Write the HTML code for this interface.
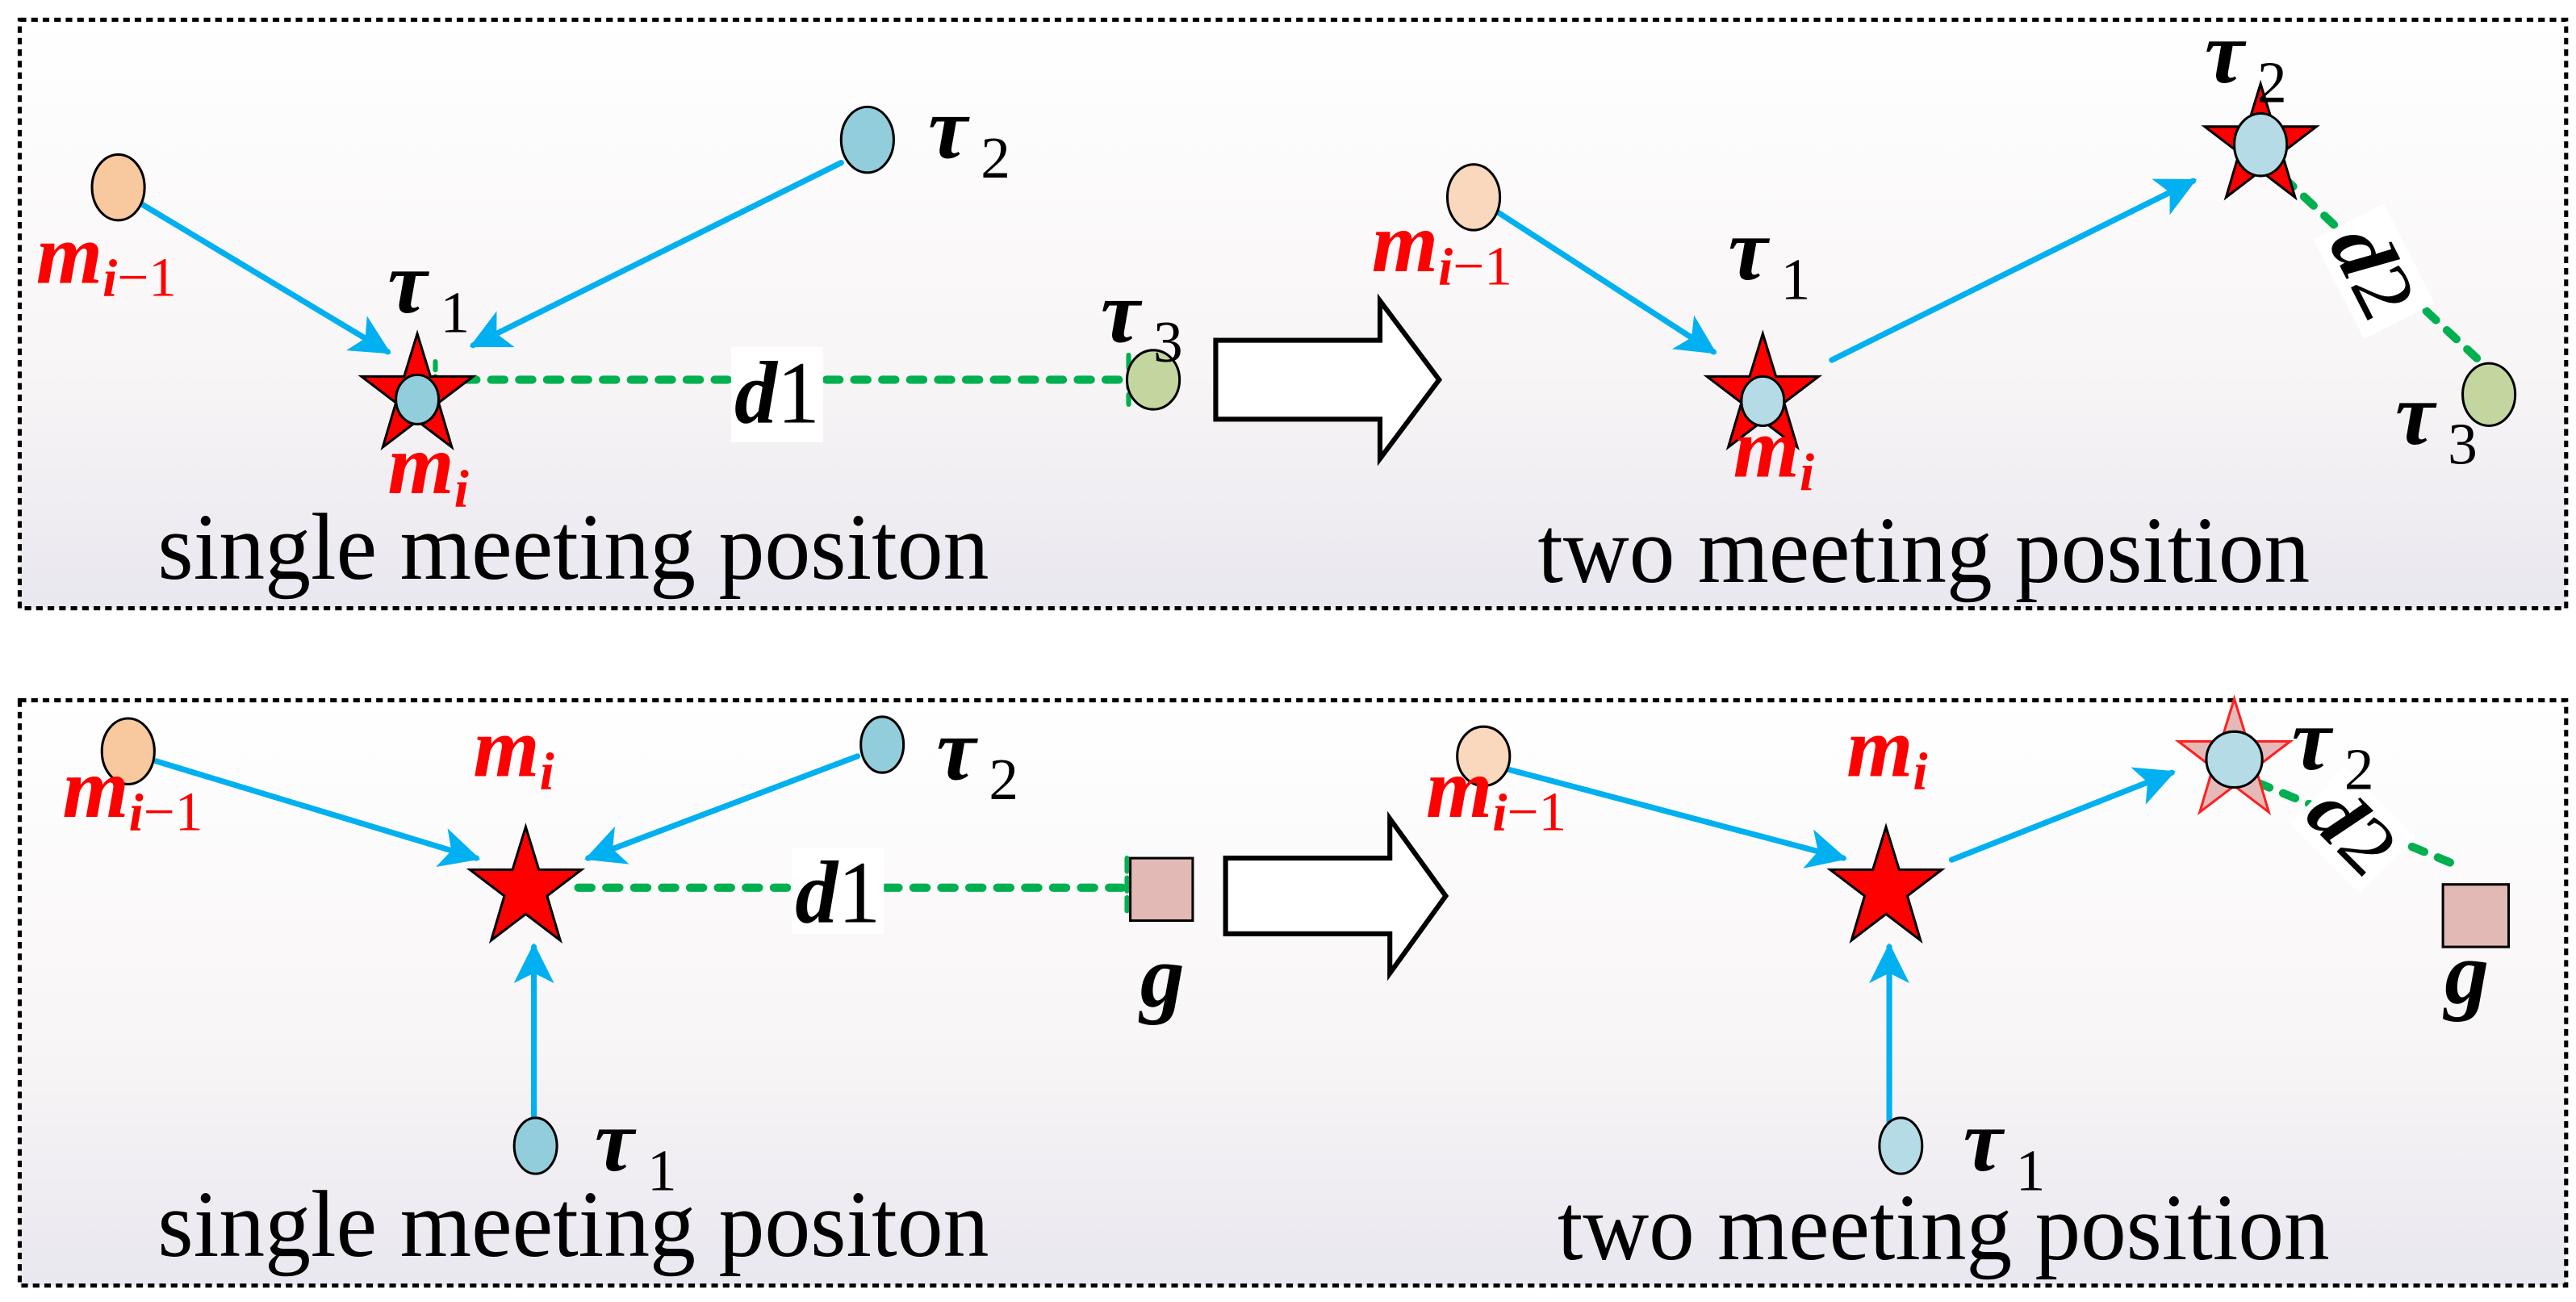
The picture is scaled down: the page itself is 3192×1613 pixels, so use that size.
<!DOCTYPE html>
<html><head><meta charset="utf-8"><style>
html,body{margin:0;padding:0;background:#fff}
svg{display:block}
.l{font-family:"Liberation Serif",serif;font-weight:bold;font-style:italic}
.s{font-family:"Liberation Serif",serif;font-weight:normal;font-style:normal}
.red{fill:#ff0000}
</style></head><body>
<svg width="3192" height="1613" viewBox="0 0 1568 792" preserveAspectRatio="none" xmlns="http://www.w3.org/2000/svg">
<defs>
<linearGradient id="bg" x1="0" y1="0" x2="0" y2="1">
<stop offset="0" stop-color="#ffffff"/><stop offset="0.6" stop-color="#f8f5f6"/><stop offset="1" stop-color="#e9e7ef"/>
</linearGradient>
<marker id="ah" viewBox="0 0 10 10" refX="9" refY="5" markerWidth="8" markerHeight="7" markerUnits="strokeWidth" orient="auto">
<path d="M0,0 L10,5 L0,10 L2.5,5 z" fill="#00b0f0"/></marker>
<polygon id="star" points="0,-37 8,-11 34,-11 13,5 21,32 0,16 -21,32 -13,5 -34,-11 -8,-11"/>
</defs>
<rect x="12" y="12" width="1550" height="358" fill="url(#bg)" stroke="#000" stroke-width="2.5" stroke-dasharray="4,3"/>
<rect x="12" y="426" width="1550" height="356" fill="url(#bg)" stroke="#000" stroke-width="2.5" stroke-dasharray="4,3"/>

<g stroke-linecap="round">
<line x1="86" y1="124" x2="236" y2="214" stroke="#00b0f0" stroke-width="3.5" marker-end="url(#ah)"/>
<line x1="512" y1="99" x2="288" y2="210" stroke="#00b0f0" stroke-width="3.5" marker-end="url(#ah)"/>
<line x1="265" y1="231" x2="690" y2="231" stroke="#00b050" stroke-width="5" stroke-dasharray="8,9"/>
<line x1="265" y1="220" x2="265" y2="238" stroke="#00b050" stroke-width="3" stroke-dasharray="5,4"/>
<line x1="687" y1="216" x2="687" y2="246" stroke="#00b050" stroke-width="3" stroke-dasharray="8,4"/>
</g>
<use href="#star" x="254" y="240" fill="#ff0000" stroke="#000" stroke-width="1.5"/>
<ellipse cx="254" cy="243" rx="13" ry="15" fill="#92cddb" stroke="#000" stroke-width="1.5"/>
<ellipse cx="72" cy="114" rx="16" ry="20" fill="#f8c89e" stroke="#000" stroke-width="1.5"/>
<ellipse cx="528" cy="85" rx="16" ry="20" fill="#92cddb" stroke="#000" stroke-width="1.5"/>
<ellipse cx="702" cy="231" rx="16" ry="18" fill="#c4d6a0" stroke="#000" stroke-width="1.5"/>
<rect x="445" y="211" width="56" height="58" fill="#fff"/>
<text x="447" y="257" class="l" font-size="54" textLength="52" lengthAdjust="spacingAndGlyphs">d<tspan class="s" font-weight="bold">1</tspan></text>
<text x="22" y="172" class="l red" font-size="52">m<tspan font-size="32" dy="8">i</tspan><tspan class="s red" font-weight="bold" font-size="34">−1</tspan></text>
<text x="236" y="300" class="l red" font-size="52">m<tspan font-size="32" dy="8">i</tspan></text>
<text x="236" y="190" class="l" font-size="54">τ<tspan class="s" font-size="36" dx="8" dy="12">1</tspan></text>
<text x="565" y="96" class="l" font-size="54">τ<tspan class="s" font-size="36" dx="8" dy="12">2</tspan></text>
<text x="670" y="208" class="l" font-size="54">τ<tspan class="s" font-size="36" dx="8" dy="12">3</tspan></text>
<text x="96" y="352" class="s" font-size="58" textLength="506" lengthAdjust="spacingAndGlyphs">single meeting positon</text>

<polygon points="740,207 840,207 840,183 876,231 840,279 840,255 740,255" fill="#fff" stroke="#000" stroke-width="3"/>

<g stroke-linecap="round">
<line x1="910" y1="128" x2="1043" y2="214" stroke="#00b0f0" stroke-width="3.5" marker-end="url(#ah)"/>
<line x1="1115" y1="219" x2="1335" y2="110" stroke="#00b0f0" stroke-width="3.5" marker-end="url(#ah)"/>
<line x1="1390" y1="108" x2="1512" y2="222" stroke="#00b050" stroke-width="5" stroke-dasharray="8,9"/>
</g>
<use href="#star" x="1073" y="240" fill="#ff0000" stroke="#000" stroke-width="1.5"/>
<ellipse cx="1073" cy="244" rx="13" ry="15" fill="#b4dbe6" stroke="#000" stroke-width="1.5"/>
<use href="#star" x="1376" y="88" fill="#ff0000" stroke="#000" stroke-width="1.5"/>
<ellipse cx="1376" cy="88" rx="16" ry="19" fill="#b4dbe6" stroke="#000" stroke-width="1.5"/>
<ellipse cx="897" cy="120" rx="16" ry="20" fill="#f9d8bd" stroke="#000" stroke-width="1.5"/>
<ellipse cx="1515" cy="240" rx="16" ry="19" fill="#c4d6a0" stroke="#000" stroke-width="1.5"/>
<g transform="translate(1445,165) rotate(63)">
<rect x="-34" y="-24" width="68" height="48" fill="#fff"/>
<text x="-28" y="17" class="l" font-size="50" textLength="56" lengthAdjust="spacingAndGlyphs">d<tspan class="s" font-weight="bold">2</tspan></text>
</g>
<text x="835" y="165" class="l red" font-size="52">m<tspan font-size="32" dy="8">i</tspan><tspan class="s red" font-weight="bold" font-size="34">−1</tspan></text>
<text x="1055" y="290" class="l red" font-size="52">m<tspan font-size="32" dy="8">i</tspan></text>
<text x="1052" y="170" class="l" font-size="54">τ<tspan class="s" font-size="36" dx="8" dy="12">1</tspan></text>
<text x="1342" y="50" class="l" font-size="54">τ<tspan class="s" font-size="36" dx="8" dy="12">2</tspan></text>
<text x="1458" y="270" class="l" font-size="54">τ<tspan class="s" font-size="36" dx="8" dy="12">3</tspan></text>
<text x="936" y="354" class="s" font-size="58" textLength="470" lengthAdjust="spacingAndGlyphs">two meeting position</text>

<g stroke-linecap="round">
<line x1="95" y1="463" x2="290" y2="522" stroke="#00b0f0" stroke-width="3.5" marker-end="url(#ah)"/>
<line x1="522" y1="460" x2="358" y2="522" stroke="#00b0f0" stroke-width="3.5" marker-end="url(#ah)"/>
<line x1="325" y1="688" x2="325" y2="576" stroke="#00b0f0" stroke-width="3.5" marker-end="url(#ah)"/>
<line x1="352" y1="540" x2="686" y2="540" stroke="#00b050" stroke-width="5" stroke-dasharray="8,9"/>
<line x1="686" y1="522" x2="686" y2="556" stroke="#00b050" stroke-width="3" stroke-dasharray="8,4"/>
</g>
<use href="#star" x="320" y="540" fill="#ff0000" stroke="#000" stroke-width="1.5"/>
<ellipse cx="78" cy="457" rx="16" ry="20" fill="#f8c89e" stroke="#000" stroke-width="1.5"/>
<ellipse cx="537" cy="453" rx="13" ry="17" fill="#92cddb" stroke="#000" stroke-width="1.5"/>
<ellipse cx="326" cy="697" rx="13" ry="17" fill="#92cddb" stroke="#000" stroke-width="1.5"/>
<rect x="688" y="522" width="38" height="38" fill="#e3b9b5" stroke="#000" stroke-width="1.5"/>
<rect x="482" y="516" width="56" height="52" fill="#fff"/>
<text x="484" y="561" class="l" font-size="54" textLength="52" lengthAdjust="spacingAndGlyphs">d<tspan class="s" font-weight="bold">1</tspan></text>
<text x="38" y="497" class="l red" font-size="52">m<tspan font-size="32" dy="8">i</tspan><tspan class="s red" font-weight="bold" font-size="34">−1</tspan></text>
<text x="288" y="472" class="l red" font-size="52">m<tspan font-size="32" dy="8">i</tspan></text>
<text x="570" y="474" class="l" font-size="54">τ<tspan class="s" font-size="36" dx="8" dy="12">2</tspan></text>
<text x="362" y="712" class="l" font-size="54">τ<tspan class="s" font-size="36" dx="8" dy="12">1</tspan></text>
<text x="694" y="612" class="l" font-size="54">g</text>
<text x="96" y="764" class="s" font-size="58" textLength="506" lengthAdjust="spacingAndGlyphs">single meeting positon</text>

<polygon points="746,522 846,522 846,498 880,545 846,592 846,568 746,568" fill="#fff" stroke="#000" stroke-width="3"/>

<g stroke-linecap="round">
<line x1="918" y1="468" x2="1122" y2="522" stroke="#00b0f0" stroke-width="3.5" marker-end="url(#ah)"/>
<line x1="1188" y1="523" x2="1322" y2="470" stroke="#00b0f0" stroke-width="3.5" marker-end="url(#ah)"/>
<line x1="1150" y1="690" x2="1150" y2="576" stroke="#00b0f0" stroke-width="3.5" marker-end="url(#ah)"/>
<line x1="1374" y1="476" x2="1497" y2="527" stroke="#00b050" stroke-width="5" stroke-dasharray="8,9"/>
</g>
<use href="#star" x="1148" y="540" fill="#ff0000" stroke="#000" stroke-width="1.5"/>
<use href="#star" x="1360" y="462" fill="#e6b9b9" stroke="#ff2020" stroke-width="1.5"/>
<ellipse cx="1360" cy="462" rx="17" ry="17" fill="#b4dbe6" stroke="#000" stroke-width="1.5"/>
<ellipse cx="903" cy="460" rx="16" ry="18" fill="#f9d8bd" stroke="#000" stroke-width="1.5"/>
<ellipse cx="1157" cy="697" rx="13" ry="17" fill="#b4dbe6" stroke="#000" stroke-width="1.5"/>
<rect x="1487" y="538" width="40" height="38" fill="#e3b9b5" stroke="#000" stroke-width="1.5"/>
<g transform="translate(1432,505) rotate(45)">
<rect x="-30" y="-24" width="60" height="48" fill="#fff"/>
<text x="-27" y="16" class="l" font-size="48" textLength="54" lengthAdjust="spacingAndGlyphs">d<tspan class="s" font-weight="bold">2</tspan></text>
</g>
<text x="868" y="497" class="l red" font-size="52">m<tspan font-size="32" dy="8">i</tspan><tspan class="s red" font-weight="bold" font-size="34">−1</tspan></text>
<text x="1124" y="472" class="l red" font-size="52">m<tspan font-size="32" dy="8">i</tspan></text>
<text x="1395" y="468" class="l" font-size="54">τ<tspan class="s" font-size="36" dx="8" dy="12">2</tspan></text>
<text x="1195" y="712" class="l" font-size="54">τ<tspan class="s" font-size="36" dx="8" dy="12">1</tspan></text>
<text x="1488" y="610" class="l" font-size="54">g</text>
<text x="948" y="766" class="s" font-size="58" textLength="470" lengthAdjust="spacingAndGlyphs">two meeting position</text>
</svg>
</body></html>
